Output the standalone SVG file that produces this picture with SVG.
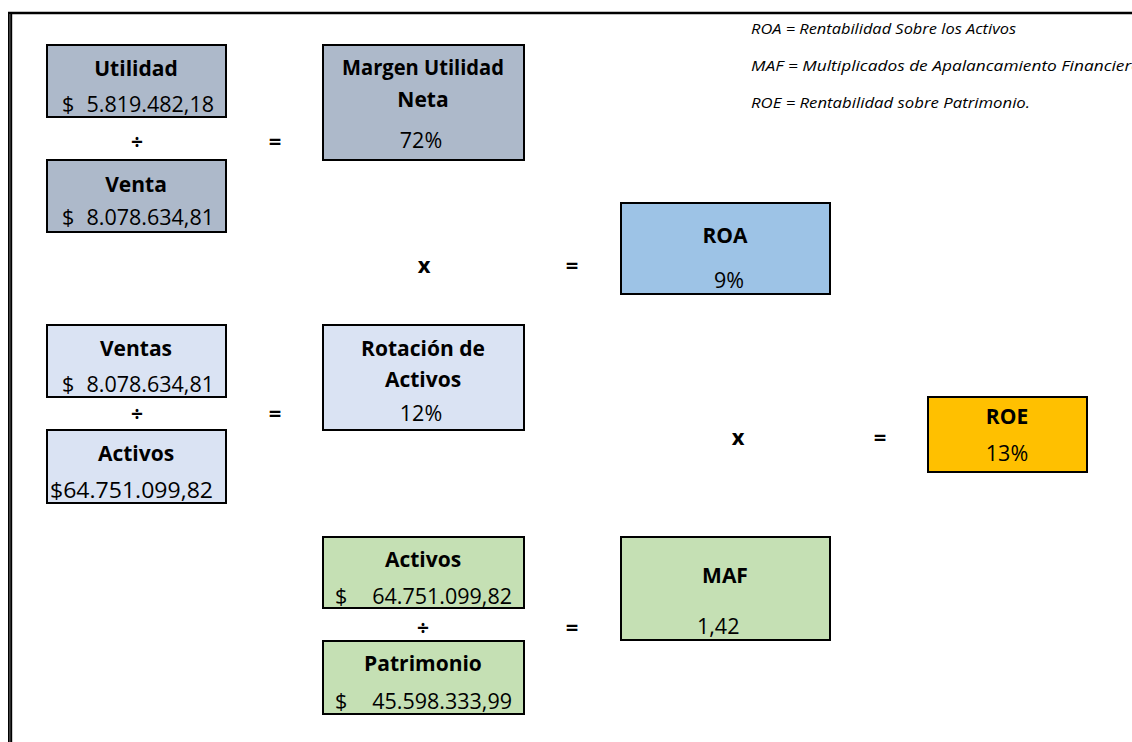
<svg xmlns="http://www.w3.org/2000/svg" width="1132" height="742" viewBox="0 0 1132 742">
<style>
  .box{stroke:#000;stroke-width:2}
  .gray{fill:#ADB9CA}
  .blue{fill:#9DC3E6}
  .light{fill:#DAE3F3}
  .green{fill:#C5E0B4}
  .orange{fill:#FFC000}
  text{font-family:"Open Sans","Noto Sans","Liberation Sans",sans-serif;fill:#000}
  .t{font-weight:bold;font-size:21px;text-anchor:middle}
  .v{font-size:21.5px}
  .c{text-anchor:middle}
  .e{text-anchor:end}
  .op{font-weight:bold;font-size:22px;text-anchor:middle}
  .div{font-weight:bold;font-size:21px;text-anchor:middle}
  .leg{font-style:italic;font-size:14px}
</style>
<rect width="1132" height="742" fill="#fff"/>
<g id="frame">
  <line x1="8" y1="13" x2="1132" y2="13" stroke="#000" stroke-width="2.6"/>
  <rect x="8" y="12" width="4.2" height="730" fill="#000"/>
  <line x1="9.9" y1="14" x2="9.9" y2="742" stroke="#888" stroke-width="0.8"/>
</g>
<g id="legend">
  <text class="leg" x="751" y="34" textLength="265" lengthAdjust="spacingAndGlyphs">ROA = Rentabilidad Sobre los Activos</text>
  <text class="leg" x="751" y="71" textLength="390" lengthAdjust="spacingAndGlyphs">MAF = Multiplicados de Apalancamiento Financiero</text>
  <text class="leg" x="751" y="108" textLength="279" lengthAdjust="spacingAndGlyphs">ROE = Rentabilidad sobre Patrimonio.</text>
</g>
<g id="utilidad">
  <rect class="box gray" x="47" y="45" width="179" height="72"/>
  <text class="t" x="136" y="76">Utilidad</text>
  <text class="v" x="62" y="112">$</text>
  <text class="v e" x="214" y="112">5.819.482,18</text>
</g>
<g id="venta">
  <rect class="box gray" x="47" y="160" width="179" height="72"/>
  <text class="t" x="136" y="192">Venta</text>
  <text class="v" x="62" y="225">$</text>
  <text class="v e" x="214" y="225">8.078.634,81</text>
</g>
<g id="margen">
  <rect class="box gray" x="323" y="45" width="201" height="115"/>
  <text class="t" x="423" y="75" textLength="162" lengthAdjust="spacingAndGlyphs">Margen Utilidad</text>
  <text class="t" x="423" y="107">Neta</text>
  <text class="v c" x="421" y="148">72%</text>
</g>
<g id="roa">
  <rect class="box blue" x="621" y="203" width="209" height="91"/>
  <text class="t" x="725" y="243">ROA</text>
  <text class="v c" x="729" y="288">9%</text>
</g>
<g id="ventas">
  <rect class="box light" x="47" y="325" width="179" height="72"/>
  <text class="t" x="136" y="356">Ventas</text>
  <text class="v" x="62" y="392">$</text>
  <text class="v e" x="214" y="392">8.078.634,81</text>
</g>
<g id="activos">
  <rect class="box light" x="47" y="430" width="179" height="73"/>
  <text class="t" x="136" y="461">Activos</text>
  <text class="v" x="50" y="498" textLength="163" lengthAdjust="spacingAndGlyphs">$64.751.099,82</text>
</g>
<g id="rotacion">
  <rect class="box light" x="323" y="325" width="201" height="105"/>
  <text class="t" x="423" y="356">Rotación de</text>
  <text class="t" x="423" y="387">Activos</text>
  <text class="v c" x="421" y="421">12%</text>
</g>
<g id="roe">
  <rect class="box orange" x="928" y="397" width="159" height="75"/>
  <text class="t" x="1007" y="424">ROE</text>
  <text class="v c" x="1007" y="461">13%</text>
</g>
<g id="activos2">
  <rect class="box green" x="323" y="537" width="201" height="71"/>
  <text class="t" x="423" y="567">Activos</text>
  <text class="v" x="335" y="604">$</text>
  <text class="v e" x="512" y="604">64.751.099,82</text>
</g>
<g id="patrimonio">
  <rect class="box green" x="323" y="641" width="201" height="73"/>
  <text class="t" x="423" y="671">Patrimonio</text>
  <text class="v" x="335" y="709">$</text>
  <text class="v e" x="512" y="709">45.598.333,99</text>
</g>
<g id="maf">
  <rect class="box green" x="621" y="537" width="209" height="103"/>
  <text class="t" x="725" y="583">MAF</text>
  <text class="v" x="697" y="634">1,42</text>
</g>
<g id="connectors">
  <text class="div" x="137" y="149">÷</text>
  <text class="op" x="275" y="149">=</text>
  <text class="op" x="424" y="273">x</text>
  <text class="op" x="572" y="273">=</text>
  <text class="div" x="137" y="421">÷</text>
  <text class="op" x="275" y="421">=</text>
  <text class="op" x="738" y="445">x</text>
  <text class="op" x="880" y="445">=</text>
  <text class="div" x="423" y="635">÷</text>
  <text class="op" x="572" y="635">=</text>
</g>
</svg>
